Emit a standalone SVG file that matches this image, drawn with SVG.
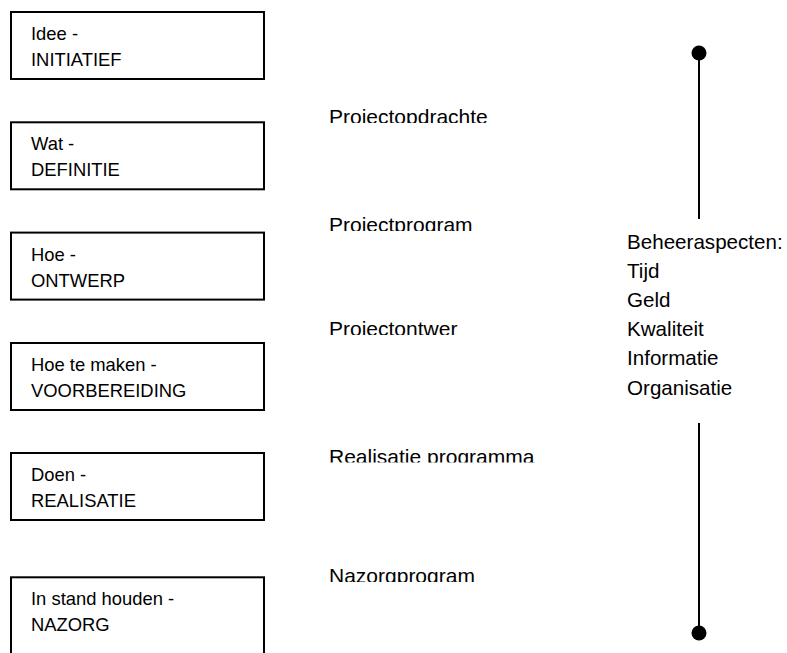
<svg xmlns="http://www.w3.org/2000/svg" width="787" height="653" viewBox="0 0 787 653">
  <style>
    .box { fill: #ffffff; stroke: #000000; stroke-width: 2; }
    .phase { font-family: "Liberation Sans", Arial, sans-serif; font-size: 18.4px; fill: #000000; }
    .doc { font-family: "Liberation Sans", Arial, sans-serif; font-size: 21px; fill: #000000; }
    .aspect { font-family: "Liberation Sans", Arial, sans-serif; font-size: 20.6px; fill: #000000; }
    .axis { stroke: #000000; stroke-width: 2; fill: none; }
    .dot { fill: #000000; }
  </style>
  <defs>
    <!-- document labels are cut off at their baseline -->
    <clipPath id="clip-doc1"><rect x="320" y="90" width="200" height="33"/></clipPath>
    <clipPath id="clip-doc2"><rect x="320" y="200" width="200" height="31"/></clipPath>
    <clipPath id="clip-doc3"><rect x="320" y="300" width="200" height="35"/></clipPath>
    <clipPath id="clip-doc4"><rect x="320" y="430" width="240" height="32.5"/></clipPath>
    <clipPath id="clip-doc5"><rect x="320" y="550" width="200" height="32"/></clipPath>
  </defs>

  <rect width="787" height="653" fill="#ffffff"/>

  <!-- phase boxes -->
  <g id="phase-initiatief">
    <rect class="box" x="11" y="12" width="253" height="67"/>
    <text class="phase" x="31" y="40">Idee -</text>
    <text class="phase" x="31" y="66">INITIATIEF</text>
  </g>
  <g id="phase-definitie">
    <rect class="box" x="11" y="122.3" width="253" height="67"/>
    <text class="phase" x="31" y="150.3">Wat -</text>
    <text class="phase" x="31" y="176.3">DEFINITIE</text>
  </g>
  <g id="phase-ontwerp">
    <rect class="box" x="11" y="232.6" width="253" height="67"/>
    <text class="phase" x="31" y="260.6">Hoe -</text>
    <text class="phase" x="31" y="286.6">ONTWERP</text>
  </g>
  <g id="phase-voorbereiding">
    <rect class="box" x="11" y="343" width="253" height="67"/>
    <text class="phase" x="31" y="371">Hoe te maken -</text>
    <text class="phase" x="31" y="397">VOORBEREIDING</text>
  </g>
  <g id="phase-realisatie">
    <rect class="box" x="11" y="453" width="253" height="67"/>
    <text class="phase" x="31" y="481">Doen -</text>
    <text class="phase" x="31" y="507">REALISATIE</text>
  </g>
  <g id="phase-nazorg">
    <rect class="box" x="11" y="577.3" width="253" height="90"/>
    <text class="phase" x="31" y="605.3">In stand houden -</text>
    <text class="phase" x="31" y="631.3">NAZORG</text>
  </g>

  <!-- documents between the phases -->
  <g id="doc-opdracht" clip-path="url(#clip-doc1)">
    <text class="doc" x="329" y="124">Projectopdrachte</text>
  </g>
  <g id="doc-programma" clip-path="url(#clip-doc2)">
    <text class="doc" x="329" y="232">Projectprogram</text>
  </g>
  <g id="doc-ontwerp" clip-path="url(#clip-doc3)">
    <text class="doc" x="329" y="336">Projectontwer</text>
  </g>
  <g id="doc-realisatie" clip-path="url(#clip-doc4)">
    <text class="doc" x="329" y="463.5">Realisatie programma</text>
  </g>
  <g id="doc-nazorg" clip-path="url(#clip-doc5)">
    <text class="doc" x="329" y="583">Nazorgprogram</text>
  </g>

  <!-- management aspects axis -->
  <g id="connectors">
    <line class="axis" x1="699" y1="53" x2="699" y2="219"/>
    <line class="axis" x1="699" y1="423" x2="699" y2="633"/>
    <circle class="dot" cx="699" cy="53" r="7.5"/>
    <circle class="dot" cx="699" cy="633" r="7.5"/>
  </g>

  <g id="beheeraspecten">
    <text class="aspect" x="627" y="249">Beheeraspecten:</text>
    <text class="aspect" x="627" y="278">Tijd</text>
    <text class="aspect" x="627" y="307">Geld</text>
    <text class="aspect" x="627" y="336.3">Kwaliteit</text>
    <text class="aspect" x="627" y="365.4">Informatie</text>
    <text class="aspect" x="627" y="394.5">Organisatie</text>
  </g>
</svg>
